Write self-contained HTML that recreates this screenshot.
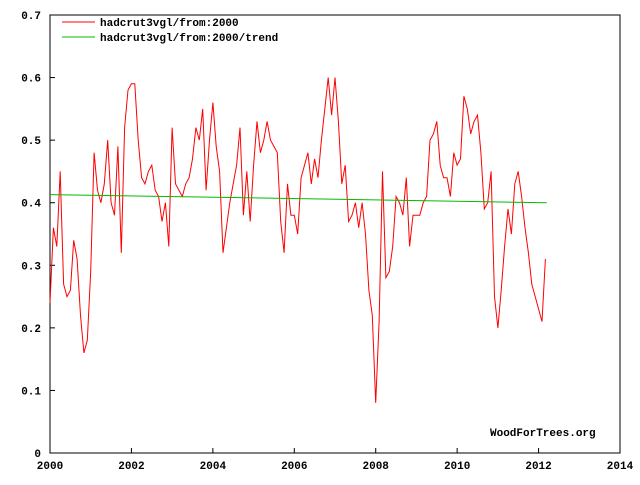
<!DOCTYPE html>
<html><head><meta charset="utf-8"><style>
body{margin:0;background:#fff}
svg text{font-family:"Liberation Mono",monospace;font-size:11px;font-weight:bold;fill:#000}
</style></head><body>
<svg id="chart" width="640" height="480" xmlns="http://www.w3.org/2000/svg">
<rect x="0" y="0" width="640" height="480" fill="#fff"/>
<rect x="50" y="15" width="570" height="438" fill="none" stroke="#000" stroke-width="1"/>
<g id="axes"></g>
<g id="series"></g>
<g>
<line x1="62" y1="22" x2="95" y2="22" stroke="#f00"/>
<text x="100" y="26">hadcrut3vgl/from:2000</text>
<line x1="62" y1="37" x2="95" y2="37" stroke="#0b0"/>
<text x="100" y="41">hadcrut3vgl/from:2000/trend</text>
</g>
<text x="490" y="436">WoodForTrees.org</text>
</svg>
<script>
const startYear = 2000;
const values = [
0.24,0.36,0.33,0.45,0.27,0.25,0.26,0.34,0.31,0.22,0.16,0.18,
0.29,0.48,0.42,0.40,0.43,0.50,0.40,0.38,0.49,0.32,0.52,0.58,
0.59,0.59,0.50,0.44,0.43,0.45,0.46,0.42,0.41,0.37,0.40,0.33,
0.52,0.43,0.42,0.41,0.43,0.44,0.47,0.52,0.50,0.55,0.42,0.50,
0.56,0.49,0.45,0.32,0.36,0.40,0.43,0.46,0.52,0.38,0.45,0.37,
0.46,0.53,0.48,0.50,0.53,0.50,0.49,0.48,0.37,0.32,0.43,0.38,
0.38,0.35,0.44,0.46,0.48,0.43,0.47,0.44,0.50,0.55,0.60,0.54,
0.60,0.53,0.43,0.46,0.37,0.38,0.40,0.36,0.40,0.35,0.26,0.22,
0.08,0.21,0.45,0.28,0.29,0.33,0.41,0.40,0.38,0.44,0.33,0.38,
0.38,0.38,0.40,0.41,0.50,0.51,0.53,0.46,0.44,0.44,0.41,0.48,
0.46,0.47,0.57,0.55,0.51,0.53,0.54,0.48,0.39,0.40,0.45,0.25,
0.20,0.26,0.33,0.39,0.35,0.43,0.45,0.41,0.36,0.32,0.27,0.25,
0.23,0.21,0.31];
const trendStart = [2000, 0.413];
const trendEnd = [2012.2, 0.400];
const xTicks = [2000,2002,2004,2006,2008,2010,2012,2014];
const yTicks = [0,0.1,0.2,0.3,0.4,0.5,0.6,0.7];

const X = t => 50 + (t - 2000) * 570 / 14;
const Y = v => 453 - v * 438 / 0.7;
const NS = "http://www.w3.org/2000/svg";
const axes = document.getElementById('axes');
const series = document.getElementById('series');
function mk(tag, attrs, parent){const e=document.createElementNS(NS,tag);for(const k in attrs)e.setAttribute(k,attrs[k]);parent.appendChild(e);return e;}
xTicks.forEach(t=>{
  const l=mk('line',{x1:X(t),x2:X(t),y1:453,y2:448,stroke:'#000'},axes);
  
  
  const tx=mk('text',{x:X(t),y:469,'text-anchor':'middle'},axes);
  tx.textContent=t;
  
  
});
yTicks.forEach(v=>{
  const l=mk('line',{x1:50,x2:55,y1:Y(v),y2:Y(v),stroke:'#000'},axes);
  
  
  const tx=mk('text',{x:41,y:Y(v)+4,'text-anchor':'end'},axes);
  tx.textContent=v===0?'0':v.toFixed(1);
  
  
});
const pts=values.map((v,i)=>X(startYear+i/12).toFixed(1)+','+Y(v).toFixed(1)).join(' ');
const pl=mk('polyline',{points:pts,fill:'none',stroke:'#f00','stroke-width':1},series);


const tr=mk('line',{x1:X(trendStart[0]),y1:Y(trendStart[1]),x2:X(trendEnd[0]),y2:Y(trendEnd[1]),stroke:'#0b0','stroke-width':1},series);


</script>
</body></html>
